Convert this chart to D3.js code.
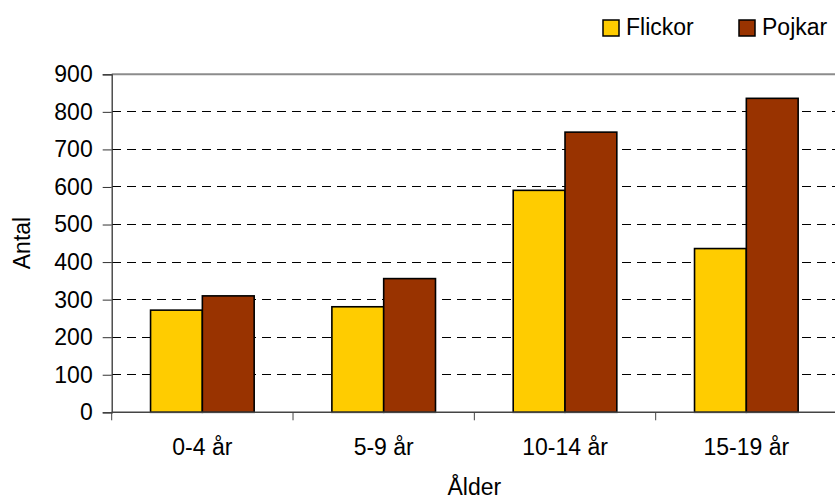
<!DOCTYPE html>
<html>
<head>
<meta charset="utf-8">
<script src="https://cdn.jsdelivr.net/npm/d3@7"></script>
<style>
  html, body { margin: 0; padding: 0; background: #fff; }
  svg { display: block; font-family: "Liberation Sans", Arial, sans-serif; }
</style>
</head>
<body>
<svg id="chart" width="835" height="500"></svg>
<script>
// Antal barn per åldersgrupp, flickor och pojkar
const categories = ["0-4 år", "5-9 år", "10-14 år", "15-19 år"];
const seriesNames = ["Flickor", "Pojkar"];
const flickor = [272, 281, 591, 436];
const pojkar = [310, 356, 746, 836];
const yTicks = [0, 100, 200, 300, 400, 500, 600, 700, 800, 900];
const colors = ["#FFCC00", "#993300"];

const svg = d3.select("#chart");
const plot = { left: 111.7, right: 837, top: 74.3, bottom: 412.3 };
const fontSize = 23;

const x0 = d3.scaleBand().domain(categories).range([plot.left, plot.right]).padding(0);
const x1 = d3.scaleBand().domain(seriesNames).range([0, x0.bandwidth()])
  .paddingInner(0).paddingOuter(0.75);
const y = d3.scaleLinear().domain([0, 900]).range([plot.bottom, plot.top]);
const color = d3.scaleOrdinal().domain(seriesNames).range(colors);

// Dashed gridlines
svg.append("g")
  .selectAll("line")
  .data(yTicks.filter(t => t > 0 && t < 900))
  .join("line")
  .attr("x1", plot.left).attr("x2", plot.right)
  .attr("y1", d => y(d)).attr("y2", d => y(d))
  .attr("stroke", "#000").attr("stroke-width", 1)
  .attr("stroke-dasharray", "9,6")
  .attr("shape-rendering", "crispEdges");

// Plot area top border
svg.append("line")
  .attr("x1", plot.left).attr("x2", plot.right)
  .attr("y1", y(900)).attr("y2", y(900))
  .attr("stroke", "#8c8c8c").attr("stroke-width", 2);

// Bars
const rows = categories.map((c, i) => ({ cat: c, values: [flickor[i], pojkar[i]] }));
svg.append("g")
  .selectAll("g")
  .data(rows)
  .join("g")
  .attr("transform", d => `translate(${x0(d.cat)},0)`)
  .selectAll("rect")
  .data(d => d.values.map((v, j) => ({ key: seriesNames[j], value: v })))
  .join("rect")
  .attr("x", d => x1(d.key))
  .attr("width", x1.bandwidth())
  .attr("y", d => y(d.value))
  .attr("height", d => y(0) - y(d.value))
  .attr("fill", d => color(d.key))
  .attr("stroke", "#000")
  .attr("stroke-width", 1.6);

// Y axis
const yAxis = svg.append("g")
  .attr("transform", `translate(${plot.left},0)`)
  .call(d3.axisLeft(y).tickValues(yTicks).tickSize(9).tickPadding(10).tickFormat(d3.format("d")));
yAxis.select(".domain").attr("stroke", "#333").attr("stroke-width", 1.3);
yAxis.selectAll(".tick line").attr("stroke", "#333");
yAxis.selectAll("text").attr("font-size", fontSize).attr("fill", "#000")
  .attr("font-family", "Liberation Sans, Arial, sans-serif");

// X axis: ticks at category boundaries
svg.append("line")
  .attr("x1", plot.left).attr("x2", plot.right)
  .attr("y1", y(0)).attr("y2", y(0))
  .attr("stroke", "#444").attr("stroke-width", 1.5);
svg.append("g")
  .selectAll("line")
  .data(categories)
  .join("line")
  .attr("x1", d => x0(d)).attr("x2", d => x0(d))
  .attr("y1", y(0)).attr("y2", y(0) + 8)
  .attr("stroke", "#444").attr("stroke-width", 1);
svg.append("g")
  .selectAll("text")
  .data(categories)
  .join("text")
  .attr("x", d => x0(d) + x0.bandwidth() / 2)
  .attr("y", 455)
  .attr("text-anchor", "middle")
  .attr("font-size", fontSize)
  .text(d => d);

// Axis titles
svg.append("text")
  .attr("x", (plot.left + plot.right) / 2)
  .attr("y", 495)
  .attr("text-anchor", "middle")
  .attr("font-size", fontSize)
  .text("Ålder");
svg.append("text")
  .attr("transform", "translate(30,243) rotate(-90)")
  .attr("text-anchor", "middle")
  .attr("font-size", fontSize)
  .text("Antal");

// Legend
const legendPos = [603, 739];
const legend = svg.append("g")
  .selectAll("g")
  .data(seriesNames)
  .join("g")
  .attr("transform", (d, i) => `translate(${legendPos[i]},20)`);
legend.append("rect")
  .attr("width", 16).attr("height", 16)
  .attr("fill", d => color(d))
  .attr("stroke", "#000").attr("stroke-width", 1.5);
legend.append("text")
  .attr("x", 23).attr("y", 15)
  .attr("font-size", fontSize)
  .text(d => d);
</script>
</body>
</html>
